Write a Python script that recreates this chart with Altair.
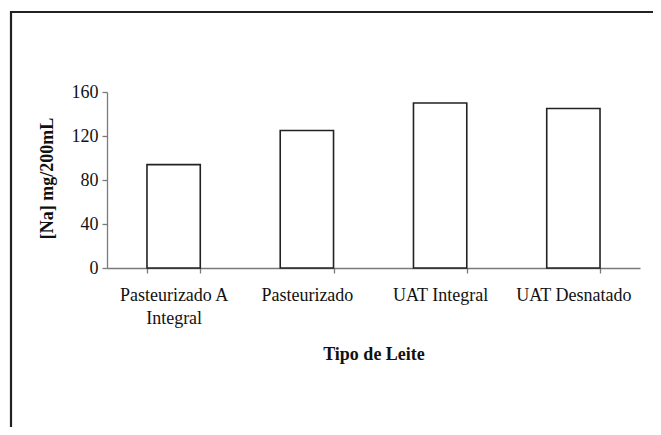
import altair as alt
import pandas as pd

categories = ["Pasteurizado A Integral", "Pasteurizado", "UAT Integral", "UAT Desnatado"]
values = [94, 125, 150, 145]
y_ticks = [0, 40, 80, 120, 160]

df = pd.DataFrame({"tipo": categories, "na": values})

W, H = 533, 176
FONT = "'Times New Roman', 'Liberation Serif', 'DejaVu Serif', serif"

bars = alt.Chart(df).mark_bar(
    fill="white", stroke="#222222", strokeWidth=1.6
).encode(
    x=alt.X(
        "tipo:N",
        sort=categories,
        title="Tipo de Leite",
        scale=alt.Scale(paddingInner=0.6, paddingOuter=0.3),
        axis=alt.Axis(
            labelAngle=0,
            tickBand="extent",
            labelExpr="datum.label == 'Pasteurizado A Integral' ? ['Pasteurizado A', 'Integral'] : datum.label",
            labelLineHeight=23,
            labelPadding=13,
            titlePadding=18,
        ),
    ),
    y=alt.Y(
        "na:Q",
        title="[Na] mg/200mL",
        scale=alt.Scale(domain=[0, 160], nice=False),
        axis=alt.Axis(
            values=y_ticks,
            grid=False,
            labelPadding=4,
            titleX=-60,
            titleY=H / 2 - 2,
            titleBaseline="middle",
        ),
    ),
)

frame = alt.Chart(pd.DataFrame({"f": [0]})).mark_rect(
    fill=None, fillOpacity=0, stroke="#222222", strokeWidth=2.2, clip=False
).encode(
    x=alt.value(-96),
    y=alt.value(-80),
    x2=alt.value(W + 60),
    y2=alt.value(H + 200),
)

chart = alt.layer(frame, bars).properties(
    width=W,
    height=H,
    autosize=alt.AutoSizeParams(type="none"),
    padding={"left": 99, "top": 84, "right": 13, "bottom": 159},
    background="white",
).configure_view(
    stroke=None
).configure_axis(
    labelFont=FONT,
    titleFont=FONT,
    labelFontSize=18,
    titleFontSize=18,
    titleFontWeight="bold",
    labelColor="#111111",
    titleColor="#111111",
    domainColor="#7a7a7a",
    tickColor="#7a7a7a",
    domainWidth=1.3,
    tickWidth=1.3,
    tickSize=5,
)

chart.save("out.html", embed_options={"renderer": "svg", "actions": False})
